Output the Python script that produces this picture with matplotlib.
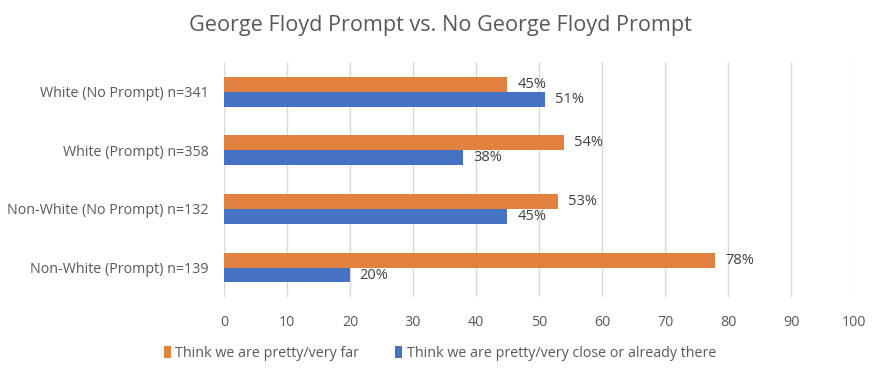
import matplotlib.pyplot as plt
import numpy as np

categories = ["White (No Prompt) n=341", "White (Prompt) n=358",
              "Non-White (No Prompt) n=132", "Non-White (Prompt) n=139"]
far = [45, 54, 53, 78]
close = [51, 38, 45, 20]
series_names = ["Think we are pretty/very far",
                "Think we are pretty/very close or already there"]

orange = "#E3823F"
blue = "#4672C4"
grey = "#595959"

plt.rcParams['font.family'] = ['Open Sans', 'DejaVu Sans']

fig = plt.figure(figsize=(8.8, 3.72), dpi=100)
ax = fig.add_axes([0.2545, 0.202, 0.716, 0.630])

y = np.arange(len(categories))
h = 0.254
b1 = ax.barh(y - h / 2, far, height=h, color=orange, label=series_names[0], zorder=3)
b2 = ax.barh(y + h / 2, close, height=h, color=blue, label=series_names[1], zorder=3)

for bars, vals in ((b1, far), (b2, close)):
    for bar, v in zip(bars, vals):
        ax.annotate(f"{v}%", (bar.get_width(), bar.get_y() + bar.get_height() / 2),
                    xytext=(7, 0), textcoords="offset points", va="center",
                    ha="left", fontsize=10.5, color="#404040")

ax.set_xlim(0, 100)
ax.set_ylim(len(categories) - 0.5, -0.5)
ax.set_xticks(range(0, 101, 10))
ax.set_yticks(y)
ax.set_yticklabels(categories)
ax.tick_params(axis="both", length=0, labelsize=10.3, colors=grey)
ax.tick_params(axis="y", pad=11)
ax.tick_params(axis="x", pad=13)
ax.grid(axis="x", color="#D9D9D9", linewidth=1, zorder=0)
for s in ax.spines.values():
    s.set_visible(False)

fig.suptitle("George Floyd Prompt vs. No George Floyd Prompt", y=0.96,
             fontsize=15.6, color=grey)

fig.legend(handles=[b1, b2], loc="center", bbox_to_anchor=(0.5, 0.05), ncol=2,
           frameon=False, fontsize=10.3, labelcolor=grey, handlelength=0.5,
           handleheight=0.9, handletextpad=0.3, columnspacing=2.5)

fig.savefig("out.png", dpi=100)
